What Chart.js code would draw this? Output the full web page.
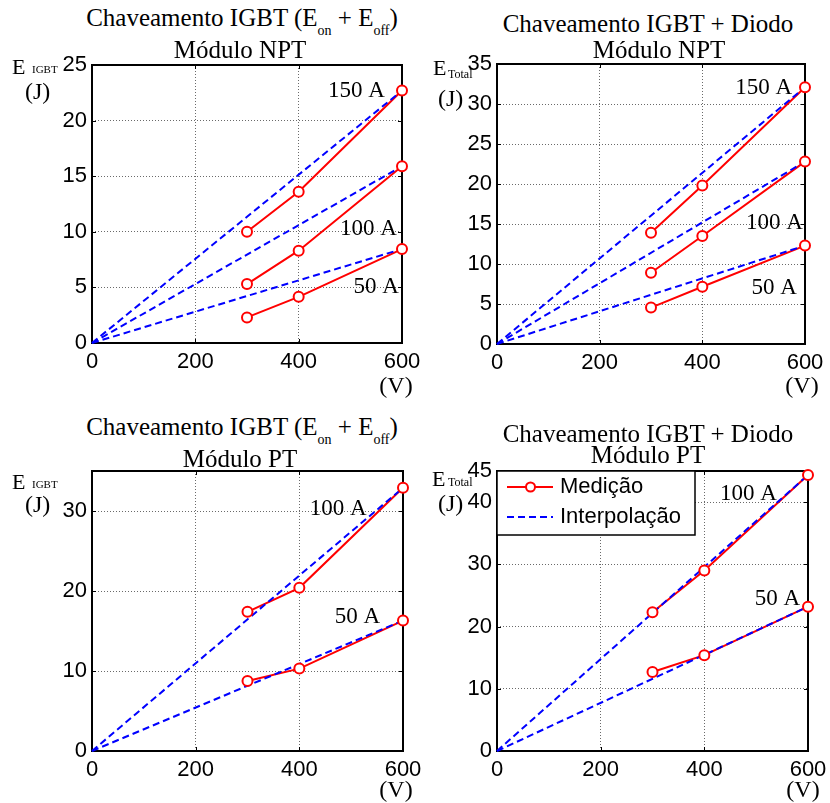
<!DOCTYPE html>
<html>
<head>
<meta charset="utf-8">
<script src="https://cdn.jsdelivr.net/npm/chart.js@4/dist/chart.umd.min.js"></script>
<style>
  html, body { margin: 0; padding: 0; background: #fff; }
  #page { position: relative; width: 830px; height: 803px; overflow: hidden; background: #fff; }
  #page canvas { position: absolute; }
  .t { position: absolute; white-space: nowrap; line-height: 1; color: #000;
       font-family: "Liberation Serif", "Times New Roman", serif; }
  .c { transform: translateX(-50%); }
  .sub { font-size: 14px; position: relative; top: 9px; }
</style>
</head>
<body>
<div id="page">
  <canvas id="npt-igbt"></canvas>
  <canvas id="npt-total"></canvas>
  <canvas id="pt-igbt"></canvas>
  <canvas id="pt-total"></canvas>

  <!-- titles -->
  <div class="t c" style="left:242px;top:5px;font-size:25px">Chaveamento IGBT (E<span class="sub">on</span> + E<span class="sub">off</span>)</div>
  <div class="t c" style="left:240px;top:37px;font-size:25px">Módulo NPT</div>
  <div class="t c" style="left:648px;top:11px;font-size:25px">Chaveamento IGBT + Diodo</div>
  <div class="t c" style="left:659px;top:37px;font-size:25px">Módulo NPT</div>
  <div class="t c" style="left:242px;top:414px;font-size:25px">Chaveamento IGBT (E<span class="sub">on</span> + E<span class="sub">off</span>)</div>
  <div class="t c" style="left:240px;top:446px;font-size:25px">Módulo PT</div>
  <div class="t c" style="left:648px;top:421px;font-size:25px">Chaveamento IGBT + Diodo</div>
  <div class="t c" style="left:648px;top:442px;font-size:25px">Módulo PT</div>

  <!-- y axis units -->
  <div class="t" style="left:12px;top:56px;font-size:22px">E</div>
  <div class="t" style="left:32px;top:64px;font-size:11px">IGBT</div>
  <div class="t" style="left:25px;top:79px;font-size:24px">(J)</div>
  <div class="t" style="left:433px;top:57px;font-size:22px">E</div>
  <div class="t" style="left:448px;top:68px;font-size:12px">Total</div>
  <div class="t" style="left:438px;top:86px;font-size:24px">(J)</div>
  <div class="t" style="left:12px;top:471px;font-size:22px">E</div>
  <div class="t" style="left:32px;top:479px;font-size:11px">IGBT</div>
  <div class="t" style="left:25px;top:492px;font-size:24px">(J)</div>
  <div class="t" style="left:432px;top:468px;font-size:22px">E</div>
  <div class="t" style="left:448px;top:476px;font-size:12px">Total</div>
  <div class="t" style="left:438px;top:491px;font-size:24px">(J)</div>

  <!-- x axis units -->
  <div class="t c" style="left:396px;top:373px;font-size:24px">(V)</div>
  <div class="t c" style="left:802px;top:373px;font-size:24px">(V)</div>
  <div class="t c" style="left:396px;top:777px;font-size:24px">(V)</div>
  <div class="t c" style="left:803px;top:777px;font-size:24px">(V)</div>
</div>

<script>
// Bus voltages (V)
const tensaoMedicao = [300, 400, 600];
const tensaoInterp = [0, 600];
const ticksTensao = [0, 200, 400, 600];

// Módulo NPT - IGBT switching energy (Eon + Eoff), J
const nptIgbt150 = [10.0, 13.6, 22.7];
const nptIgbt100 = [5.3, 8.3, 15.9];
const nptIgbt50 = [2.3, 4.15, 8.45];
const nptIgbtInterp150 = [0, 22.7];
const nptIgbtInterp100 = [0, 15.9];
const nptIgbtInterp50 = [0, 8.45];
const ticksNptIgbt = [0, 5, 10, 15, 20, 25];

// Módulo NPT - IGBT + diode, J
const nptTotal150 = [13.9, 19.8, 32.1];
const nptTotal100 = [8.9, 13.5, 22.8];
const nptTotal50 = [4.55, 7.15, 12.3];
const nptTotalInterp150 = [0, 32.1];
const nptTotalInterp100 = [0, 22.8];
const nptTotalInterp50 = [0, 12.3];
const ticksNptTotal = [0, 5, 10, 15, 20, 25, 30, 35];

// Módulo PT - IGBT switching energy (Eon + Eoff), J
const ptIgbt100 = [17.4, 20.4, 32.9];
const ptIgbt50 = [8.75, 10.3, 16.3];
const ptIgbtInterp100 = [0, 32.9];
const ptIgbtInterp50 = [0, 16.3];
const ticksPtIgbt = [0, 10, 20, 30];

// Módulo PT - IGBT + diode, J
const ptTotal100 = [22.3, 29.0, 44.35];
const ptTotal50 = [12.7, 15.4, 23.2];
const ptTotalInterp100 = [0, 44.35];
const ptTotalInterp50 = [0, 23.2];
const ticksPtTotal = [0, 10, 20, 30, 40, 45];

const nomesSerie = ['Medição', 'Interpolação'];

const RED = '#ff0000';
const BLUE = '#0000ff';
const SANS = '"Liberation Sans", Arial, sans-serif';
const SERIF = '"Liberation Serif", "Times New Roman", serif';

function pontos(xs, ys) { return xs.map((x, i) => ({ x: x, y: ys[i] })); }

// measured curve: solid red line, markers drawn by a separate top layer
function medicao(vals) {
  return { label: nomesSerie[0], data: pontos(tensaoMedicao, vals), borderColor: RED, borderWidth: 2,
           pointRadius: 0, fill: false, tension: 0, order: 3, clip: false };
}
function marcadores(vals) {
  return { label: nomesSerie[0], data: pontos(tensaoMedicao, vals), showLine: false, borderColor: RED,
           pointRadius: 5, pointBorderWidth: 2, pointBackgroundColor: '#fff', pointBorderColor: RED,
           order: 0, clip: false };
}
function interpolacao(vals) {
  return { label: nomesSerie[1], data: pontos(tensaoInterp, vals), borderColor: BLUE, borderWidth: 2,
           borderDash: [7, 4], pointRadius: 0, fill: false, tension: 0, order: 1, clip: false };
}

// frame around the plot area with inward tick marks
const moldura = {
  id: 'moldura',
  beforeDatasetsDraw(chart) {
    const { ctx, chartArea: a, scales } = chart;
    ctx.save();
    ctx.strokeStyle = '#000';
    ctx.lineWidth = 1;
    const tl = 4;
    ctx.beginPath();
    scales.x.ticks.forEach(t => {
      const px = Math.round(scales.x.getPixelForValue(t.value)) + 0.5;
      ctx.moveTo(px, a.bottom); ctx.lineTo(px, a.bottom - tl);
      ctx.moveTo(px, a.top); ctx.lineTo(px, a.top + tl);
    });
    scales.y.ticks.forEach(t => {
      const py = Math.round(scales.y.getPixelForValue(t.value)) + 0.5;
      ctx.moveTo(a.left, py); ctx.lineTo(a.left + tl, py);
      ctx.moveTo(a.right, py); ctx.lineTo(a.right - tl, py);
    });
    ctx.stroke();
    ctx.lineWidth = 2;
    ctx.strokeRect(a.left, a.top, a.right - a.left, a.bottom - a.top);
    ctx.restore();
  }
};

// current labels placed in data coordinates
const rotulos = {
  id: 'rotulos',
  afterDatasetsDraw(chart, args, opts) {
    const { ctx, scales } = chart;
    ctx.save();
    ctx.fillStyle = '#000';
    ctx.font = '23px ' + SERIF;
    ctx.textAlign = 'right';
    ctx.textBaseline = 'alphabetic';
    (opts.itens || []).forEach(r => {
      ctx.fillText(r.texto, scales.x.getPixelForValue(r.x), scales.y.getPixelForValue(r.y));
    });
    ctx.restore();
  }
};

// boxed legend in the upper-left corner of the plot area
const legenda = {
  id: 'legenda',
  afterDatasetsDraw(chart, args, opts) {
    if (!opts.mostrar) return;
    const { ctx, chartArea: a } = chart;
    const w = 198, h = 64;
    ctx.save();
    ctx.fillStyle = '#fff';
    ctx.fillRect(a.left, a.top, w, h);
    ctx.strokeStyle = '#000';
    ctx.lineWidth = 1.5;
    ctx.strokeRect(a.left, a.top, w, h);
    const rows = [a.top + 16, a.top + 46];
    // Medição
    ctx.strokeStyle = RED; ctx.lineWidth = 2; ctx.setLineDash([]);
    ctx.beginPath(); ctx.moveTo(a.left + 10, rows[0]); ctx.lineTo(a.left + 56, rows[0]); ctx.stroke();
    ctx.fillStyle = '#fff';
    ctx.beginPath(); ctx.arc(a.left + 33.5, rows[0], 4.5, 0, Math.PI * 2); ctx.fill(); ctx.stroke();
    // Interpolação
    ctx.strokeStyle = BLUE; ctx.setLineDash([7, 4]);
    ctx.beginPath(); ctx.moveTo(a.left + 10, rows[1]); ctx.lineTo(a.left + 56, rows[1]); ctx.stroke();
    ctx.setLineDash([]);
    ctx.fillStyle = '#000';
    ctx.font = '22px ' + SANS;
    ctx.textAlign = 'left';
    ctx.textBaseline = 'middle';
    ctx.fillText(nomesSerie[0], a.left + 63, rows[0]);
    ctx.fillText(nomesSerie[1], a.left + 63, rows[1]);
    ctx.restore();
  }
};

const Y_W = 70, X_H = 45, PAD_T = 20, PAD_R = 25;

function eixo(ticks, max, extra) {
  return Object.assign({
    type: 'linear', min: 0, max: max,
    afterBuildTicks: s => { s.ticks = ticks.map(v => ({ value: v })); },
    grid: { color: '#6a6a6a', lineWidth: 1, drawTicks: false, tickLength: 0, borderDash: [1, 2] },
    border: { display: false, dash: [1, 2] },
    ticks: { color: '#000', font: { family: SANS, size: 22 }, maxRotation: 0, autoSkip: false }
  }, extra);
}

function painel(id, area, yTicks, yMax, datasets, itens, mostrarLegenda) {
  const cv = document.getElementById(id);
  const W = area.w + Y_W + PAD_R, H = area.h + PAD_T + X_H;
  cv.width = W; cv.height = H;
  cv.style.width = W + 'px'; cv.style.height = H + 'px';
  const chart = new Chart(cv, {
    type: 'line',
    data: { datasets: datasets },
    options: {
      responsive: false, animation: false, devicePixelRatio: 1,
      layout: { padding: { left: 0, top: PAD_T, right: PAD_R, bottom: 0 } },
      plugins: { legend: { display: false }, tooltip: { enabled: false },
                 rotulos: { itens: itens }, legenda: { mostrar: mostrarLegenda } },
      scales: {
        x: eixo(ticksTensao, 600, { afterFit: s => { s.height = X_H; } }),
        y: eixo(yTicks, yMax, { afterFit: s => { s.width = Y_W; } })
      }
    },
    plugins: [moldura, rotulos, legenda]
  });
  chart.options.scales.x.ticks.padding = 6;
  chart.options.scales.y.ticks.padding = 5;
  chart.update();
  const ca = chart.chartArea;
  cv.style.left = (area.x - ca.left) + 'px';
  cv.style.top = (area.y - ca.top) + 'px';
  return chart;
}

painel('npt-igbt', { x: 92, y: 65, w: 310, h: 278 }, ticksNptIgbt, 25, [
  interpolacao(nptIgbtInterp150), interpolacao(nptIgbtInterp100), interpolacao(nptIgbtInterp50),
  medicao(nptIgbt150), medicao(nptIgbt100), medicao(nptIgbt50),
  marcadores(nptIgbt150), marcadores(nptIgbt100), marcadores(nptIgbt50)
], [
  { texto: '150 A', x: 567, y: 22.1 },
  { texto: '100 A', x: 590, y: 9.71 },
  { texto: '50 A', x: 594, y: 4.47 }
], false);

painel('npt-total', { x: 497, y: 64, w: 308, h: 280 }, ticksNptTotal, 35, [
  interpolacao(nptTotalInterp150), interpolacao(nptTotalInterp100), interpolacao(nptTotalInterp50),
  medicao(nptTotal150), medicao(nptTotal100), medicao(nptTotal50),
  marcadores(nptTotal150), marcadores(nptTotal100), marcadores(nptTotal50)
], [
  { texto: '150 A', x: 575, y: 31.25 },
  { texto: '100 A', x: 596, y: 14.4 },
  { texto: '50 A', x: 584, y: 6.25 }
], false);

painel('pt-igbt', { x: 92, y: 471, w: 311, h: 280 }, ticksPtIgbt, 35, [
  interpolacao(ptIgbtInterp100), interpolacao(ptIgbtInterp50),
  medicao(ptIgbt100), medicao(ptIgbt50),
  marcadores(ptIgbt100), marcadores(ptIgbt50)
], [
  { texto: '100 A', x: 530, y: 29.5 },
  { texto: '50 A', x: 556, y: 15.95 }
], false);

painel('pt-total', { x: 497, y: 471, w: 311, h: 280 }, ticksPtTotal, 45, [
  interpolacao(ptTotalInterp100), interpolacao(ptTotalInterp50),
  medicao(ptTotal100), medicao(ptTotal50),
  marcadores(ptTotal100), marcadores(ptTotal50)
], [
  { texto: '100 A', x: 540, y: 40.3 },
  { texto: '50 A', x: 585, y: 23.5 }
], true);
</script>
</body>
</html>
